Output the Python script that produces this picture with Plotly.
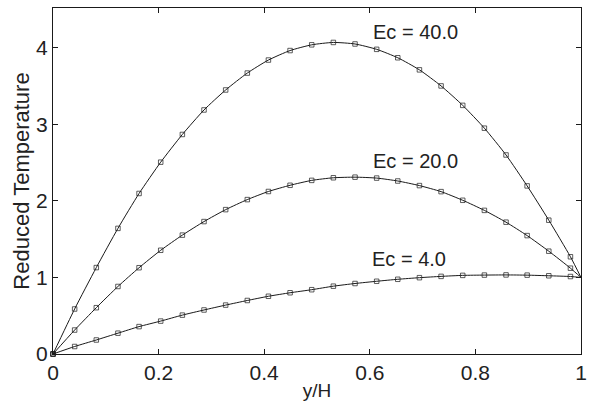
import plotly.graph_objects as go

# y/H positions of the sampled points (last value is the wall y/H = 1)
y_over_h = [0, 0.041, 0.082, 0.123, 0.163, 0.204, 0.245, 0.286, 0.327, 0.368,
            0.408, 0.449, 0.49, 0.531, 0.572, 0.613, 0.653, 0.694, 0.735, 0.776,
            0.817, 0.858, 0.898, 0.939, 0.98, 1.0]

temp_ec4 = [0, 0.098, 0.183, 0.272, 0.358, 0.43, 0.508, 0.575, 0.639, 0.699,
            0.754, 0.80, 0.84, 0.886, 0.921, 0.95, 0.976, 0.997, 1.014, 1.027,
            1.031, 1.033, 1.03, 1.022, 1.012, 1.0]

temp_ec20 = [0, 0.313, 0.605, 0.882, 1.127, 1.355, 1.553, 1.73, 1.886, 2.017,
             2.123, 2.204, 2.268, 2.302, 2.31, 2.298, 2.26, 2.2, 2.121, 2.008,
             1.876, 1.722, 1.547, 1.343, 1.121, 1.0]

temp_ec40 = [0, 0.588, 1.129, 1.641, 2.097, 2.506, 2.868, 3.188, 3.449, 3.67,
             3.84, 3.964, 4.039, 4.07, 4.05, 3.98, 3.87, 3.712, 3.502, 3.248,
             2.95, 2.6, 2.196, 1.748, 1.27, 1.0]

labels = ["Ec = 40.0", "Ec = 20.0", "Ec = 4.0"]
label_x = [0.687, 0.687, 0.674]
label_y = [4.21, 2.52, 1.236]

x_ticks = [0, 0.2, 0.4, 0.6, 0.8, 1]
x_tick_text = ["0", "0.2", "0.4", "0.6", "0.8", "1"]
y_ticks = [0, 1, 2, 3, 4]

LINE = "#1a1a1a"
FONT = "Liberation Sans, Arial, Helvetica, sans-serif"

fig = go.Figure()
marker_sizes = [4.5] * (len(y_over_h) - 1) + [0]
for series in (temp_ec4, temp_ec20, temp_ec40):
    fig.add_trace(go.Scatter(
        x=y_over_h, y=series, mode="lines+markers",
        line=dict(color=LINE, width=1, shape="spline", smoothing=0.6),
        marker=dict(symbol="square-open", size=marker_sizes, color=LINE,
                    line=dict(width=1, color=LINE)),
        cliponaxis=False, showlegend=False))

for t, xx, yy in zip(labels, label_x, label_y):
    fig.add_annotation(x=xx, y=yy, text=t, showarrow=False,
                       font=dict(size=20, color="#222", family=FONT))

fig.update_layout(
    width=594, height=405,
    margin=dict(l=53, r=11, t=7, b=45),
    paper_bgcolor="white", plot_bgcolor="white",
    font=dict(family=FONT, color="#222"),
)
fig.update_xaxes(
    range=[0, 1], tickvals=x_ticks, ticktext=x_tick_text,
    ticks="inside", ticklen=5, tickcolor=LINE, tickwidth=1,
    showline=True, linecolor=LINE, linewidth=1.3, mirror="allticks",
    showgrid=False, zeroline=False,
    tickfont=dict(size=21, family=FONT, color="#222"),
    title=dict(text="y/H", font=dict(size=19, family=FONT, color="#222"), standoff=0),
)
fig.update_yaxes(
    range=[0, 4.52], tickvals=y_ticks,
    ticks="inside", ticklen=5, tickcolor=LINE, tickwidth=1,
    showline=True, linecolor=LINE, linewidth=1.3, mirror="allticks",
    showgrid=False, zeroline=False,
    tickfont=dict(size=21, family=FONT, color="#222"),
    title=dict(text="Reduced Temperature", font=dict(size=22, family=FONT, color="#222"), standoff=0),
)

fig.write_html("out.html")
